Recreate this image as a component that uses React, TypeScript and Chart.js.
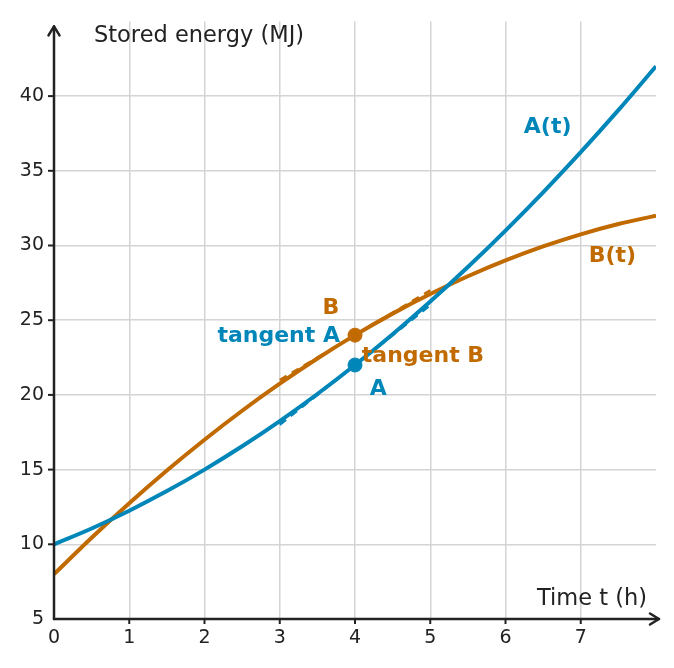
import { useEffect, useRef } from "react";
import { Chart, registerables, Plugin } from "chart.js";

Chart.register(...registerables);
Chart.defaults.font.family = "'DejaVu Sans', sans-serif";

// values
const times = [0, 0.5, 1, 1.5, 2, 2.5, 3, 3.5, 4, 4.5, 5, 5.5, 6, 6.5, 7, 7.5, 8];
const energyA = [10, 11.06, 12.25, 13.56, 15, 16.56, 18.25, 20.06, 22, 24.06, 26.25, 28.56, 31, 33.56, 36.25, 39.06, 42];
const energyB = [8, 10.44, 12.75, 14.94, 17, 18.94, 20.75, 22.44, 24, 25.44, 26.75, 27.94, 29, 29.94, 30.75, 31.44, 32];
const tangentTimes = [3, 5];
const tangentA = [18, 26];
const tangentB = [21, 27];
const markedTime = 4;
const markedA = 22;
const markedB = 24;
const xTicks = [0, 1, 2, 3, 4, 5, 6, 7];
const yTicks = [5, 10, 15, 20, 25, 30, 35, 40];

const BLUE = "#0086b8";
const ORANGE = "#c06a00";
const INK = "#222222";

// text labels placed in data coordinates
const notes = [
  { text: "A(t)", t: 6.56, v: 37.9, color: BLUE, align: "center" },
  { text: "B(t)", t: 7.42, v: 29.3, color: ORANGE, align: "center" },
  { text: "B", t: 3.68, v: 25.8, color: ORANGE, align: "center" },
  { text: "tangent A", t: 3.8, v: 23.9, color: BLUE, align: "right" },
  { text: "tangent B", t: 4.09, v: 22.6, color: ORANGE, align: "left" },
  { text: "A", t: 4.31, v: 20.4, color: BLUE, align: "center" },
];

const axesPlugin: Plugin = {
  id: "axesArrows",
  afterDatasetsDraw(chart) {
    const { ctx, chartArea, scales } = chart;
    const x = scales.x;
    const y = scales.y;
    const x0 = x.getPixelForValue(0);
    const y0 = y.getPixelForValue(5);
    ctx.save();
    ctx.strokeStyle = INK;
    ctx.lineWidth = 2.5;
    ctx.lineCap = "round";
    ctx.lineJoin = "round";
    // y axis with arrow
    ctx.beginPath();
    ctx.moveTo(x0, y0);
    ctx.lineTo(x0, chartArea.top + 5);
    ctx.stroke();
    ctx.beginPath();
    ctx.moveTo(x0 - 5.5, chartArea.top + 14);
    ctx.lineTo(x0, chartArea.top + 5);
    ctx.lineTo(x0 + 5.5, chartArea.top + 14);
    ctx.stroke();
    // x axis with arrow
    ctx.beginPath();
    ctx.moveTo(x0, y0);
    ctx.lineTo(chartArea.right + 3, y0);
    ctx.stroke();
    ctx.beginPath();
    ctx.moveTo(chartArea.right - 6, y0 - 5.5);
    ctx.lineTo(chartArea.right + 3, y0);
    ctx.lineTo(chartArea.right - 6, y0 + 5.5);
    ctx.stroke();
    // tick marks
    ctx.lineWidth = 2;
    ctx.lineCap = "butt";
    xTicks.forEach((t) => {
      if (t === 0) return;
      const px = x.getPixelForValue(t);
      ctx.beginPath();
      ctx.moveTo(px, y0);
      ctx.lineTo(px, y0 + 5);
      ctx.stroke();
    });
    yTicks.forEach((v) => {
      if (v === 5) return;
      const py = y.getPixelForValue(v);
      ctx.beginPath();
      ctx.moveTo(x0, py);
      ctx.lineTo(x0 - 6, py);
      ctx.stroke();
    });
    // axis titles
    ctx.fillStyle = INK;
    ctx.font = "22.5px 'DejaVu Sans'";
    ctx.textBaseline = "middle";
    ctx.textAlign = "left";
    ctx.fillText("Stored energy (MJ)", x0 + 40, 36);
    ctx.textAlign = "right";
    ctx.fillText("Time t (h)", chartArea.right - 9, y0 - 20);
    // annotations
    ctx.font = "bold 22px 'DejaVu Sans'";
    notes.forEach((n) => {
      ctx.fillStyle = n.color;
      ctx.textAlign = n.align as CanvasTextAlign;
      ctx.fillText(n.text, x.getPixelForValue(n.t), y.getPixelForValue(n.v));
    });
    ctx.restore();
  },
};

function EnergyChart() {
  const canvasRef = useRef<HTMLCanvasElement | null>(null);

  useEffect(() => {
    if (!canvasRef.current) return;
    const toPoints = (xs: number[], ys: number[]) => xs.map((t, i) => ({ x: t, y: ys[i] }));

    const chart = new Chart(canvasRef.current, {
      type: "line",
      data: {
        datasets: [
          {
            label: "A point",
            data: [{ x: markedTime, y: markedA }],
            borderColor: BLUE,
            backgroundColor: BLUE,
            pointRadius: 7,
            showLine: false,
          },
          {
            label: "B point",
            data: [{ x: markedTime, y: markedB }],
            borderColor: ORANGE,
            backgroundColor: ORANGE,
            pointRadius: 7,
            showLine: false,
          },
          {
            label: "A(t)",
            data: toPoints(times, energyA),
            borderColor: BLUE,
            borderWidth: 4,
            pointRadius: 0,
            cubicInterpolationMode: "monotone",
          },
          {
            label: "B(t)",
            data: toPoints(times, energyB),
            borderColor: ORANGE,
            borderWidth: 4,
            pointRadius: 0,
            cubicInterpolationMode: "monotone",
          },
          {
            label: "tangent A",
            data: toPoints(tangentTimes, tangentA),
            borderColor: BLUE,
            borderWidth: 2.5,
            borderDash: [8, 6],
            pointRadius: 0,
          },
          {
            label: "tangent B",
            data: toPoints(tangentTimes, tangentB),
            borderColor: ORANGE,
            borderWidth: 2.5,
            borderDash: [8, 6],
            pointRadius: 0,
          },
        ],
      },
      options: {
        responsive: false,
        animation: false,
        devicePixelRatio: 1,
        layout: { padding: { left: 0, right: 18, top: 17, bottom: 0 } },
        plugins: { legend: { display: false }, tooltip: { enabled: false } },
        scales: {
          x: {
            type: "linear",
            min: 0,
            max: 8,
            border: { display: false },
            afterFit: (scale) => {
              scale.height = 49;
            },
            afterBuildTicks: (scale) => {
              scale.ticks = [...xTicks, 8].map((v) => ({ value: v }));
            },
            grid: {
              drawTicks: false,
              lineWidth: 1.5,
              color: (c) => (c.tick && (c.tick.value === 0 || c.tick.value === 8) ? "rgba(0,0,0,0)" : "#d4d4d4"),
            },
            ticks: {
              padding: 8,
              color: INK,
              font: { size: 19 },
              callback: (v) => (Number(v) === 8 ? "" : String(v)),
            },
          },
          y: {
            type: "linear",
            min: 5,
            max: 45,
            border: { display: false },
            afterFit: (scale) => {
              scale.width = 54;
            },
            afterBuildTicks: (scale) => {
              scale.ticks = [...yTicks, 45].map((v) => ({ value: v }));
            },
            grid: {
              drawTicks: false,
              lineWidth: 1.5,
              color: (c) => (c.tick && (c.tick.value === 5 || c.tick.value === 45) ? "rgba(0,0,0,0)" : "#d4d4d4"),
            },
            ticks: {
              padding: 10,
              color: INK,
              font: { size: 19 },
              callback: (v) => (Number(v) === 45 ? "" : String(v)),
            },
          },
        },
      },
      plugins: [axesPlugin],
    });

    return () => {
      chart.destroy();
    };
  }, []);

  return <canvas ref={canvasRef} width={674} height={668}></canvas>;
}

export default function App() {
  return (
    <div style={{ position: "fixed", left: 0, top: 0, width: 674, height: 668, background: "#fff" }}>
      <EnergyChart />
    </div>
  );
}
